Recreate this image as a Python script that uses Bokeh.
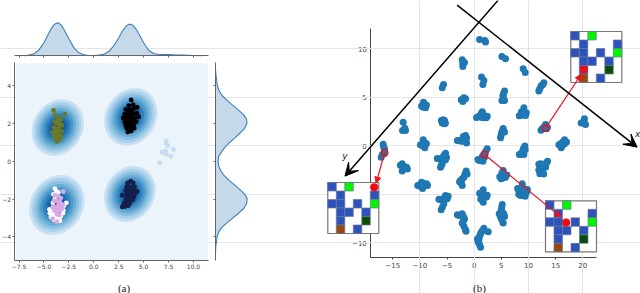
from bokeh.plotting import figure
from bokeh.embed import file_html
from bokeh.resources import INLINE
from bokeh.models import Range1d, LinearAxis, FixedTicker, Arrow, VeeHead, NormalHead, Label

# ---------- panel (a) data ----------
joint_xticks = [-7.5, -5.0, -2.5, 0.0, 2.5, 5.0, 7.5, 10.0]
joint_xlabels = ["−7.5", "−5.0", "−2.5", "0.0", "2.5", "5.0", "7.5", "10.0"]
joint_yticks = [-4, -2, 0, 2, 4]
joint_ylabels = ["−4", "−2", "0", "2", "4"]

kde_cx = [-3.61, 3.71, -3.71, 3.61]
kde_cy = [1.79, 2.35, -2.31, -1.73]
kde_scale = [0.98, 1.0, 1.04, 0.97]
kde_levels = [1.0, 0.9, 0.8, 0.7, 0.6, 0.5, 0.4, 0.3, 0.2, 0.1]
kde_colors = ["#c6dff2", "#a9d0ea", "#8cc0e0", "#6aaed6", "#4d99ca", "#3383be",
              "#1f6eb0", "#105aa0", "#0a4585", "#08306b"]

olive_x = [-3.6, -3.3, -3.9, -3.4, -3.7, -3.2, -4.0, -3.5, -3.8, -3.2, -4.1, -3.6, -3.9, -3.3, -4.0, -3.6, -3.8, -3.4, -3.7, -4.03, -2.9, -3.9, -3.5, -3.5, -3.7, -3.6]
olive_y = [2.3, 2.25, 2.1, 2.0, 2.0, 1.9, 1.8, 1.8, 1.7, 1.6, 1.55, 1.5, 1.4, 1.35, 1.3, 1.2, 1.15, 1.15, 1.05, 2.7, 2.5, 2.45, 2.15, 1.65, 1.6, 1.35]
black_x = [3.75, 3.5, 3.95, 3.2, 3.6, 4.0, 4.35, 3.1, 3.5, 3.9, 4.3, 2.95, 3.3, 3.7, 4.1, 4.5, 3.1, 3.5, 3.9, 4.25, 3.2, 3.6, 4.0, 3.3, 3.7, 4.05, 3.4, 3.75, 3.5, 3.78, 3.45, 3.85, 3.6]
black_y = [3.25, 2.95, 3.0, 2.75, 2.75, 2.8, 2.85, 2.5, 2.5, 2.5, 2.55, 2.3, 2.3, 2.3, 2.3, 2.35, 2.1, 2.1, 2.1, 2.1, 1.9, 1.9, 1.9, 1.75, 1.75, 1.75, 1.55, 1.6, 2.6, 2.65, 2.0, 2.0, 2.4]
navy_x = [3.7, 3.4, 3.95, 3.3, 3.7, 4.1, 3.2, 3.6, 4.0, 4.35, 3.3, 3.7, 4.1, 2.85, 3.25, 3.6, 4.0, 3.2, 3.55, 3.9, 3.0, 3.3, 3.6, 2.85, 3.15, 3.45, 3.5, 3.8]
navy_y = [-1.05, -1.15, -1.15, -1.35, -1.35, -1.35, -1.55, -1.55, -1.55, -1.6, -1.75, -1.75, -1.75, -1.8, -1.95, -1.95, -1.9, -2.1, -2.1, -2.05, -2.25, -2.25, -2.25, -2.42, -2.4, -2.35, -1.55, -1.55]
white_x = [-3.9, -3.75, -4.05, -3.55, -3.9, -4.1, -2.75, -4.4, -4.1, -3.05, -4.3, -3.1, -4.0, -3.75, -3.5, -3.4, -4.2, -3.0, -4.45, -3.85, -3.3]
white_y = [-1.45, -1.6, -1.75, -1.65, -2.0, -2.2, -2.2, -2.75, -2.65, -2.6, -2.95, -2.75, -3.1, -3.05, -3.0, -3.15, -2.85, -2.35, -2.55, -2.85, -2.9]
plum_x = [-3.05, -3.9, -3.6, -3.3, -4.0, -3.7, -3.4, -3.1, -4.1, -3.8, -3.5, -3.2, -3.95, -3.65, -3.35, -3.7, -3.45, -3.7, -4.15, -3.5]
plum_y = [-1.6, -1.8, -1.85, -1.95, -2.1, -2.1, -2.15, -2.3, -2.4, -2.4, -2.4, -2.5, -2.6, -2.6, -2.6, -2.8, -2.85, -3.2, -3.05, -2.25]
pale_x = [7.25, 7.4, 8.0, 6.8, 7.2, 7.3, 7.75, 6.6, 7.1, 7.25]
pale_y = [1.08, 0.83, 0.63, 0.49, 0.55, 0.37, 0.26, -0.09, 0.43, 0.95]

top_x = [-7.0, -6.5, -6, -5.5, -5, -4.5, -4.25, -4, -3.75, -3.5, -3.25, -3, -2.75, -2.5, -2, -1.5, -1, -0.5, 0, 0.5, 1, 1.5, 2, 2.5, 2.75, 3, 3.25, 3.5, 3.75, 4, 4.25, 4.5, 5, 5.5, 6, 6.5, 7, 7.5, 8, 9, 10, 10.8]
top_d = [0.0, 0.02, 0.06, 0.18, 0.40, 0.70, 0.84, 0.95, 1.0, 1.0, 0.93, 0.81, 0.67, 0.52, 0.25, 0.09, 0.03, 0.01, 0.01, 0.02, 0.05, 0.13, 0.30, 0.55, 0.69, 0.81, 0.91, 0.96, 0.96, 0.91, 0.81, 0.68, 0.40, 0.17, 0.07, 0.04, 0.04, 0.04, 0.03, 0.02, 0.01, 0.0]
side_y = [-4.85, -4.5, -4, -3.75, -3.5, -3.25, -3, -2.75, -2.5, -2.25, -2, -1.75, -1.5, -1.25, -1, -0.75, -0.5, -0.25, 0, 0.25, 0.5, 0.75, 1, 1.25, 1.5, 1.75, 2, 2.25, 2.5, 2.75, 3, 3.25, 3.5, 3.75, 4, 4.5, 4.85]
side_d = [0.0, 0.01, 0.05, 0.10, 0.20, 0.37, 0.55, 0.73, 0.89, 0.98, 1.0, 0.93, 0.77, 0.60, 0.42, 0.27, 0.17, 0.10, 0.08, 0.10, 0.19, 0.30, 0.45, 0.62, 0.78, 0.92, 0.99, 0.98, 0.87, 0.70, 0.52, 0.35, 0.20, 0.11, 0.06, 0.02, 0.0]

# ---------- panel (b) data ----------
tsne_xticks = [-15, -10, -5, 0, 5, 10, 15, 20]
tsne_xlabels = ["−15", "−10", "−5", "0", "5", "10", "15", "20"]
tsne_yticks = [-10, -5, 0, 5, 10]
tsne_ylabels = ["−10", "−5", "0", "5", "10"]

tsne_x = [0.98, 2.09, 1.96, 5.1, 5.77, -2.21, -1.78, -2.09, 9.02, 9.39, 12.83, 12.34, 11.91, 1.35, 1.78, 1.6, -5.65, -5.89,
          5.59, 5.28, 5.59, 5.1, -1.9, -2.39, -2.09, -1.6, -9.33, -9.45, -8.96, -9.27, 9.15, 8.9, 8.53, 9.45,
          1.35, 1.78, 0.43, 2.21, 1.17, 20.3, 19.7, 20.5, 20.2, -5.71, -5.89, -5.46, -5.46,
          -13.08, -12.77, -13.2, -12.65, 13.14, 12.52, 13.32, 12.83, 5.34, 5.03, 4.85, 5.59,
          -1.6, -2.03, -2.82, -1.6, -2.4, 16.64, 15.9, 16.64, 16.02, -9.39, -8.96, -9.58, -9.09,
          -16.76, -16.51, -17.13, -16.6, 9.33, 8.96, 8.53, 9.15, 2.39, 1.78, 1.29, 0.92, 1.9,
          -5.28, -5.71, -6.51, -5.89, -6.2, -5.28, 13.32, 12.22, 12.52, 12.09, 13.14, 12.2,
          -13.26, -12.83, -13.26, -12.45, 5.34, 5.16, 5.77, 4.97, -1.47, -1.9, -2.52, -2.21,
          -9.7, -10.19, -9.27, -8.78, -9.75, 8.84, 9.15, 8.23, 8.53, 9.64, 9.15,
          1.66, 1.29, 2.27, 1.66, 1.78, -5.28, -6.2, -4.97, -5.59, -6.08,
          5.16, 4.97, 5.46, 4.85, 5.34, -2.21, -2.82, -1.78, -2.21, -1.6, -1.9,
          1.78, 2.58, 1.17, 0.86, 0.74, 1.17]
tsne_y = [10.96, 10.69, 10.86, 9.21, 8.97, 8.87, 8.59, 8.18, 7.94, 7.56, 6.49, 6.19, 5.64, 7.08, 6.74, 6.32, 6.32, 5.98,
          5.64, 5.19, 4.67, 4.67, 4.95, 4.74, 4.57, 4.85, 4.5, 3.99, 3.92, 4.26, 3.92, 3.47, 3.13, 3.13,
          3.37, 3.13, 2.92, 2.89, 2.96, 2.78, 2.34, 2.2, 2.54, 2.68, 2.34, 2.27, 2.61,
          2.44, 1.82, 1.58, 1.58, 2.2, 1.75, 1.75, 1.92, 1.79, 1.31, 0.82, 1.41,
          1.07, 0.72, 0.55, 0.48, 0.48, 0.62, 0.21, 0.21, -0.21, 0.62, 0.27, 0.03, -0.21,
          0.17, -0.31, -1.17, -0.82, -0.03, -0.48, -0.89, -0.89, -0.31, -0.89, -1.34, -1.51, -1.17,
          -0.76, -1.24, -1.34, -1.86, -2.2, -1.45, -1.75, -1.86, -2.37, -2.89, -2.2, -2.37,
          -1.86, -2.37, -2.61, -2.2, -2.54, -3.06, -3.23, -3.4, -2.61, -3.23, -3.57, -4.09,
          -3.75, -4.09, -4.09, -3.92, -4.26, -3.92, -4.43, -4.6, -5.12, -4.78, -5.12,
          -4.54, -5.12, -5.29, -5.81, -5.29, -5.12, -5.57, -5.46, -5.98, -6.6,
          -6.05, -6.67, -7.01, -7.35, -7.97, -7.01, -7.18, -7.53, -7.97, -8.66, -8.3,
          -8.49, -8.87, -9.07, -9.59, -9.93, -10.45]
more_x = [-2.1, 12.6, 12.1, 5.4, 5.4, 8.7, 9.2, 1.6, 1.0, 5.2, 4.95, -2.2, -2.0, 16.2, 16.3, -9.3, -9.2, -16.7, -16.9, 8.8, 9.1,
          1.5, 2.1, -5.6, -6.0, -6.05, 12.8, 12.4, 12.7, -13.0, 5.1, 5.4, -1.7, -2.2, -2.35, -9.9, -9.4, 8.9, 8.7, 9.0,
          1.5, 1.6, 1.9, -5.6, -5.6, -5.85, 5.05, 5.2, 5.1, 5.1, -2.4, -2.0, -2.0, 1.5, 1.0, 0.85, 1.0, 1.3,
          -6.05, -5.3, 0.8, 2.4, 1.5, -3.1, -1.4, -1.4, 8.3, 9.6, 11.9, 13.5, 11.9, 12.8, -10.4, -8.6, -9.5,
          8.0, 9.8, 8.2, 9.4, 1.0, 2.4, 1.2, -6.5, -4.8, -6.8, -5.1, 0.7, 1.6, -2.7, -1.3, -3.1, -1.5, 4.6, 5.6,
          0.6, 12.3, 13.5, 15.6, 17.0, -9.9, -8.8, -13.6, -12.3, -9.7, -8.8, 4.7, 6.0, 8.3, 9.4]
more_y = [8.45, 6.3, 5.9, 5.4, 4.9, 3.5, 3.5, 2.9, 3.1, 1.55, 1.05, 0.5, 0.95, 0.0, 0.4, 0.35, -0.1, -0.1, -0.9, -0.7, -0.25,
          -1.1, -0.6, -1.0, -1.5, -2.0, -1.9, -2.6, -2.2, -2.1, -2.8, -3.3, -2.9, -3.4, -3.85, -4.0, -3.85, -4.2, -4.7, -4.9,
          -4.85, -5.5, -5.1, -5.4, -5.7, -6.3, -6.35, -6.85, -7.2, -7.65, -7.1, -7.3, -7.75, -8.75, -9.3, -9.75, -10.2, -8.9,
          2.6, 2.35, 3.0, 3.05, 3.5, 0.55, 0.8, 0.3, 3.1, 3.4, -1.9, -1.6, -2.5, -2.9, -4.1, -4.1, -4.4,
          -4.4, -4.5, -5.0, -5.2, -4.9, -5.1, -5.5, -5.5, -5.2, -1.3, -1.2, -1.4, -1.6, -3.7, -2.9, -7.1, -8.8, -7.0, -7.3,
          -9.6, 1.6, 1.9, 0.1, 0.4, 0.1, 0.2, -2.0, -2.4, 4.1, 4.2, -3.2, -3.0, -0.9, -0.4]

ring_x = [13.14, -16.5, 1.9]
ring_y = [1.82, -0.72, -0.89]
target_x = [19.7, -18.05, 16.0]
target_y = [7.35, -3.85, -7.35]
agent_col = [1.53, 5.45, 2.43]
agent_row = [4.47, 0.55, 2.55]

blue_col = [0, 1, 5, 0, 1, 3, 1, 2, 4, 1, 3]
blue_row = [0, 1, 1, 2, 2, 2, 3, 3, 3, 4, 5]
green_col = [2, 5]
green_row = [0, 2]
dark_col = [4]
dark_row = [4]
brown_col = [1]
brown_row = [5]

W, H = 640, 293


def xr(u0, p0, u1, p1):
    k = (u1 - u0) / (p1 - p0)
    return Range1d(u0 - p0 * k, u0 + (W - p0) * k)


def yr(u0, p0, u1, p1):
    k = (u1 - u0) / (p1 - p0)
    return Range1d(u0 + (H - p0) * k, u0 - p0 * k)


p = figure(width=W, height=H, x_range=xr(0, 473.7, 20, 582.3), y_range=yr(0, 145.3, 10, 48.3),
           x_axis_location=None, y_axis_location=None, toolbar_location=None,
           output_backend="svg", min_border=0, margin=(0, 0, 0, 0))
p.outline_line_color = None
p.background_fill_color = "white"

p.extra_x_ranges["jx"] = xr(-7.5, 18.5, 10.0, 193.0)
p.extra_y_ranges["jy"] = yr(4, 85.3, -4, 236.3)
p.extra_y_ranges["topd"] = yr(0, 55.3, 1, 22.6)
p.extra_x_ranges["sided"] = xr(0, 215.0, 1, 246.7)
boxes = [(570.3, 31.0), (327.3, 182.0), (545.0, 200.3)]
for i, (bx, by) in enumerate(boxes):
    p.extra_x_ranges[f"g{i}x"] = xr(0, bx, 6, bx + 51)
    p.extra_y_ranges[f"g{i}y"] = yr(0, by, 6, by + 51)


def axis(side, x_name, y_name, loc, bounds, ticks, labels, size, color, level="guide", standoff=1):
    a = LinearAxis(x_range_name=x_name, y_range_name=y_name, fixed_location=loc, bounds=bounds,
                   ticker=FixedTicker(ticks=ticks), axis_line_color=color, major_tick_line_color=color,
                   minor_tick_line_color=None, major_tick_in=0, major_tick_out=2,
                   major_label_text_font="DejaVu Sans", major_label_text_font_size=size,
                   major_label_text_color="#444444", major_label_standoff=standoff,
                   major_label_overrides=dict(zip(ticks, labels)), level=level)
    p.add_layout(a, side)
    return a


# ---------- panel (a) ----------
p.quad(left=[-7.81], right=[11.47], bottom=[-5.27], top=[5.2], x_range_name="jx", y_range_name="jy",
       color="#ebf3fb", line_color=None)
for lev, col in zip(kde_levels, kde_colors):
    p.ellipse(x=kde_cx, y=kde_cy, width=[50.5 * s * lev for s in kde_scale], height=[60 * s * lev for s in kde_scale],
              width_units="screen", height_units="screen", angle=[-0.55] * 4,
              x_range_name="jx", y_range_name="jy", fill_color=col, line_color=None)
for cl_x, cl_y, col in [(pale_x, pale_y, "#c6dcf0"), (olive_x, olive_y, "#6b7a2a"), (black_x, black_y, "#000000"),
                        (navy_x, navy_y, "#141f4b"), (white_x, white_y, "#ffffff"), (plum_x, plum_y, "#d8a9e2")]:
    p.scatter(cl_x, cl_y, size=4.8, x_range_name="jx", y_range_name="jy", color=col, line_color=None)

p.varea(x=top_x, y1=[0] * len(top_x), y2=top_d, x_range_name="jx", y_range_name="topd", color="#c5d9ea")
p.line(top_x, top_d, x_range_name="jx", y_range_name="topd", color="#3a80b8", line_width=1.1)
p.harea(y=side_y, x1=[0] * len(side_y), x2=side_d, x_range_name="sided", y_range_name="jy", color="#c5d9ea")
p.line(side_d, side_y, x_range_name="sided", y_range_name="jy", color="#3a80b8", line_width=1.1)

jxb = (-8.0, 11.5)
jyb = (-5.27, 5.22)
axis("below", "jx", "jy", -5.27, jxb, joint_xticks, joint_xlabels, "6px", "#666666")
axis("left", "jx", "jy", -8.0, jyb, joint_yticks, joint_ylabels, "6px", "#666666")
axis("below", "jx", "topd", 0, jxb, joint_xticks, [" "] * 8, "1px", "#666666", standoff=0)
axis("left", "sided", "jy", 0, jyb, joint_yticks, [" "] * 5, "1px", "#666666", standoff=0)

p.add_layout(Label(x=123.5, y=H - 287, x_units="screen", y_units="screen", text="(a)", text_font="Liberation Serif",
                   text_font_size="11px", text_font_style="normal", text_align="center", text_baseline="middle",
                   text_color="#222222"))

# ---------- panel (b) ----------
axis("below", "default", "default", -11.55, (-19.04, 22.6), tsne_xticks, tsne_xlabels, "7px", "#444444", level="underlay", standoff=2)
axis("left", "default", "default", -19.04, (-11.55, 12.1), tsne_yticks, tsne_ylabels, "7px", "#444444", level="underlay", standoff=2)

p.scatter(tsne_x + more_x, tsne_y + more_y, size=7, color="#1f77b4", line_color=None)

for i, (cx, ro) in enumerate(zip(agent_col, agent_row)):
    xn, yn = f"g{i}x", f"g{i}y"
    p.quad(left=[0], right=[6], top=[0], bottom=[6], x_range_name=xn, y_range_name=yn, fill_color="white",
           line_color="#777777", line_width=1.2)
    for cols, rows, col in [(blue_col, blue_row, "#2b52bd"), (green_col, green_row, "#00f500"),
                            (dark_col, dark_row, "#0a4d0a"), (brown_col, brown_row, "#96480f")]:
        p.quad(left=cols, right=[c + 1 for c in cols], top=rows, bottom=[r + 1 for r in rows],
               x_range_name=xn, y_range_name=yn, fill_color=col, line_color="#6b7a90", line_width=0.7)
    p.scatter([cx], [ro], size=8, x_range_name=xn, y_range_name=yn, color="#f00a14", line_color=None)

p.scatter(ring_x, ring_y, size=6.5, fill_color=None, line_color="#e8101e", line_width=1.4)
for x0, y0, x1, y1 in zip(ring_x, ring_y, target_x, target_y):
    p.add_layout(Arrow(x_start=x0, y_start=y0, x_end=x1, y_end=y1, line_color="#f0101e", line_width=1.2,
                       end=NormalHead(size=6, fill_color="#f0101e", line_color="#f0101e")))

p.add_layout(Arrow(x_start=-3.14, y_start=14.5, x_end=30.0, y_end=-0.14, line_color="black", line_width=1.5,
                   end=VeeHead(size=13, fill_color="black", line_color="black")))
p.add_layout(Arrow(x_start=4.4, y_start=15.0, x_end=-23.8, y_end=-3.13, line_color="black", line_width=1.5,
                   end=VeeHead(size=13, fill_color="black", line_color="black")))

for t, xv, yv in [("x", 30.1, 1.25), ("y", -23.8, -1.0)]:
    p.add_layout(Label(x=xv, y=yv, text=t, text_font="DejaVu Sans", text_font_style="italic",
                       text_font_size="9px", text_align="center", text_baseline="middle", text_color="#222222"))
p.add_layout(Label(x=479, y=H - 287, x_units="screen", y_units="screen", text="(b)", text_font="Liberation Serif",
                   text_font_size="11px", text_font_style="normal", text_align="center", text_baseline="middle",
                   text_color="#222222"))

open("out.html", "w").write(file_html(p, INLINE))
